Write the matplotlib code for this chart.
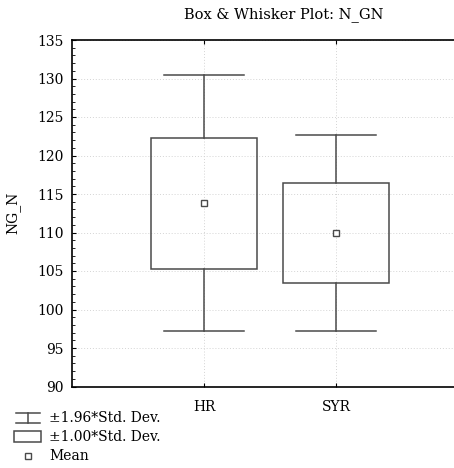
import matplotlib.pyplot as plt
from matplotlib.ticker import MultipleLocator
from matplotlib.lines import Line2D
from matplotlib.patches import Rectangle

plt.rc('font', family='DejaVu Serif')

# data
groups = ['HR', 'SYR']
means = [113.8, 110.0]
box_low = [105.3, 103.5]
box_high = [122.3, 116.45]
whisk_low = [97.15, 97.2]
whisk_high = [130.45, 122.7]

W, H = 454, 468
fig = plt.figure(figsize=(W / 100, H / 100), dpi=100)
ax = fig.add_axes([72 / W, 1 - 386.5 / H, 382 / W, 346.5 / H])

line_col = '#4a4a4a'
for i, g in enumerate(groups):
    x = i + 1
    ax.add_patch(Rectangle((x - 0.4, box_low[i]), 0.8, box_high[i] - box_low[i],
                           fill=False, edgecolor=line_col, lw=1.1, zorder=3))
    ax.plot([x, x], [box_high[i], whisk_high[i]], color=line_col, lw=1.1, zorder=3)
    ax.plot([x, x], [whisk_low[i], box_low[i]], color=line_col, lw=1.1, zorder=3)
    ax.plot([x - 0.3, x + 0.3], [whisk_high[i]] * 2, color=line_col, lw=1.1, zorder=3)
    ax.plot([x - 0.3, x + 0.3], [whisk_low[i]] * 2, color=line_col, lw=1.1, zorder=3)
    ax.plot([x], [means[i]], marker='s', ms=5, mfc='white', mec=line_col, mew=1.0, zorder=4)

ax.set_xlim(0, 382 / 132)
ax.set_ylim(90, 135)
ax.set_xticks([1, 2])
ax.set_xticklabels(groups)
ax.yaxis.set_major_locator(MultipleLocator(5))
ax.yaxis.set_minor_locator(MultipleLocator(1))
ax.tick_params(axis='both', which='both', direction='in', labelsize=10)
ax.tick_params(axis='x', top=True, pad=10, length=3)
ax.tick_params(axis='y', which='major', length=3, pad=6)
ax.tick_params(axis='y', which='minor', length=2)
ax.spines['right'].set_visible(False)
for s in ['top', 'bottom', 'left']:
    ax.spines[s].set_linewidth(1.2)
ax.grid(True, which='major', linestyle=(0, (1, 2)), color='#d4d4d4', lw=0.7)
ax.set_axisbelow(True)

ax.set_ylabel('NG_N', fontsize=10)
ax.yaxis.set_label_coords(-52 / 382, 0.5)
fig.text(284 / W, 1 - 15 / H, 'Box & Whisker Plot: N_GN', ha='center', va='center', fontsize=10.5)

# legend drawn by hand at the lower left
leg_y = [418, 437, 456]
fig.add_artist(Line2D([16 / W, 40 / W], [1 - 423 / H] * 2, color=line_col, lw=1.1))
fig.add_artist(Line2D([16 / W, 40 / W], [1 - 413 / H] * 2, color=line_col, lw=1.1))
fig.add_artist(Line2D([28 / W, 28 / W], [1 - 423 / H, 1 - 413 / H], color=line_col, lw=1.1))
fig.add_artist(Rectangle((14 / W, 1 - 442 / H), 27 / W, 11 / H, fill=False,
                         edgecolor=line_col, lw=1.1, transform=fig.transFigure))
fig.add_artist(Line2D([28 / W], [1 - 456 / H], marker='s', ms=5, mfc='white',
                      mec=line_col, mew=1.0))
labels = ['±1.96*Std. Dev.', '±1.00*Std. Dev.', 'Mean']
for y, t in zip(leg_y, labels):
    fig.text(49 / W, 1 - y / H, t, ha='left', va='center', fontsize=10)

fig.savefig('out.png', dpi=100)
